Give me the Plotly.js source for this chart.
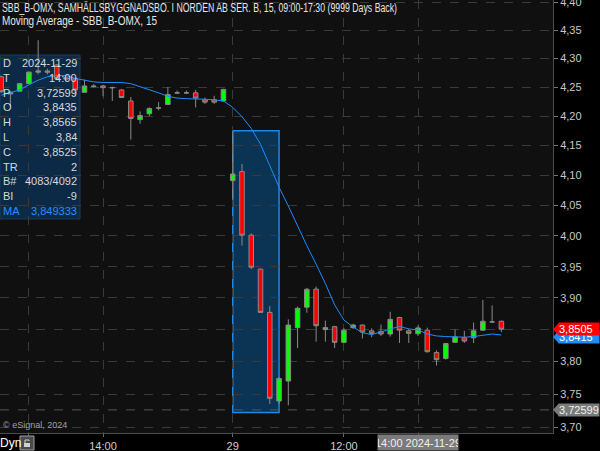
<!DOCTYPE html>
<html>
<head>
<meta charset="utf-8">
<script src="https://cdn.plot.ly/plotly-3.0.1.min.js"></script>
<style>
  html, body { margin: 0; padding: 0; background: #000; }
  #chart { width: 600px; height: 451px; }
</style>
</head>
<body>
<div id="chart"></div>
<script>
// 15-minute bars, SBB_B-OMX, 28-29 Nov 2024
const times = [
  '2024-11-28 11:15','2024-11-28 11:30','2024-11-28 11:45','2024-11-28 12:00','2024-11-28 12:15',
  '2024-11-28 12:30','2024-11-28 12:45','2024-11-28 13:00','2024-11-28 13:15','2024-11-28 13:30',
  '2024-11-28 13:45','2024-11-28 14:00','2024-11-28 14:15','2024-11-28 14:30','2024-11-28 14:45',
  '2024-11-28 15:00','2024-11-28 15:15','2024-11-28 15:30','2024-11-28 15:45','2024-11-28 16:00',
  '2024-11-28 16:15','2024-11-28 16:30','2024-11-28 16:45','2024-11-28 17:00','2024-11-28 17:15',
  '2024-11-29 09:00','2024-11-29 09:15','2024-11-29 09:30','2024-11-29 09:45','2024-11-29 10:00',
  '2024-11-29 10:15','2024-11-29 10:30','2024-11-29 10:45','2024-11-29 11:00','2024-11-29 11:15',
  '2024-11-29 11:30','2024-11-29 11:45','2024-11-29 12:00','2024-11-29 12:15','2024-11-29 12:30',
  '2024-11-29 12:45','2024-11-29 13:00','2024-11-29 13:15','2024-11-29 13:30','2024-11-29 13:45',
  '2024-11-29 14:00','2024-11-29 14:15','2024-11-29 14:30','2024-11-29 14:45','2024-11-29 15:00',
  '2024-11-29 15:15','2024-11-29 15:30','2024-11-29 15:45','2024-11-29 16:00','2024-11-29 16:15'
];
const open = [
  4.268, 4.238, 4.243, 4.256, 4.276, 4.278, 4.2885, 4.266, 4.265, 4.241,
  4.252, 4.252, 4.249, 4.245, 4.226, 4.194, 4.204, 4.214, 4.220, 4.240,
  4.240, 4.240, 4.228, 4.228, 4.226,
  4.091, 4.106, 4.001, 3.946, 3.877, 3.7395, 3.770, 3.853, 3.8853, 3.914,
  3.850, 3.8545, 3.830, 3.853, 3.857, 3.848, 3.847, 3.843, 3.869, 3.848,
  3.8435, 3.849, 3.814, 3.805, 3.830, 3.837, 3.837, 3.849, 3.862, 3.863
];
const high = [
  4.270, 4.243, 4.257, 4.277, 4.332, 4.282, 4.290, 4.268, 4.266, 4.263,
  4.255, 4.254, 4.251, 4.246, 4.233, 4.208, 4.215, 4.224, 4.250, 4.244,
  4.244, 4.245, 4.232, 4.235, 4.247,
  4.175, 4.119, 4.004, 3.947, 3.887, 3.776, 3.866, 3.886, 3.916, 3.918,
  3.864, 3.856, 3.852, 3.859, 3.858, 3.852, 3.858, 3.878, 3.870, 3.851,
  3.8565, 3.853, 3.8175, 3.829, 3.850, 3.848, 3.861, 3.8967, 3.888, 3.864
];
const low = [
  4.240, 4.217, 4.242, 4.255, 4.272, 4.272, 4.262, 4.260, 4.235, 4.240,
  4.249, 4.234, 4.226, 4.231, 4.160, 4.187, 4.200, 4.210, 4.220, 4.238,
  4.238, 4.215, 4.221, 4.221, 4.225,
  4.059, 3.984, 3.946, 3.876, 3.735, 3.735, 3.733, 3.821, 3.8765, 3.831,
  3.831, 3.821, 3.829, 3.851, 3.836, 3.838, 3.840, 3.839, 3.829, 3.829,
  3.840, 3.814, 3.794, 3.803, 3.829, 3.829, 3.829, 3.848, 3.861, 3.846
];
const close = [
  4.242, 4.241, 4.256, 4.276, 4.278, 4.276, 4.265, 4.264, 4.245, 4.252,
  4.251, 4.249, 4.249, 4.232, 4.196, 4.201, 4.213, 4.214, 4.237, 4.240,
  4.240, 4.231, 4.224, 4.224, 4.246,
  4.102, 4.001, 3.949, 3.877, 3.7436, 3.774, 3.857, 3.8835, 3.9137, 3.856,
  3.853, 3.830, 3.849, 3.857, 3.846, 3.844, 3.843, 3.866, 3.849, 3.844,
  3.8525, 3.8154, 3.803, 3.828, 3.8385, 3.832, 3.848, 3.863, 3.862, 3.8505
];
// Moving average study values per bar
const maValues = [
  4.236, 4.240, 4.245, 4.254, 4.262, 4.268, 4.270, 4.270, 4.265, 4.262,
  4.259, 4.258, 4.258, 4.258, 4.256, 4.251, 4.246, 4.240, 4.234, 4.231,
  4.230, 4.230, 4.229, 4.228, 4.226,
  4.215, 4.199, 4.179, 4.152, 4.116, 4.080, 4.049, 4.016, 3.984, 3.954,
  3.923, 3.889, 3.865, 3.854, 3.845, 3.842, 3.846, 3.851, 3.855, 3.851,
  3.849333, 3.843, 3.840, 3.839, 3.838, 3.838, 3.839, 3.841, 3.843, 3.8415
];
// Price axis levels
const priceTicks = [3.70, 3.75, 3.80, 3.85, 3.90, 3.95, 4.00, 4.05, 4.10, 4.15, 4.20, 4.25, 4.30, 4.35, 4.40];
// Time axis labels
const timeTickVals = ['2024-11-28 12:00','2024-11-28 14:00','2024-11-29 09:00','2024-11-29 12:00','2024-11-29 14:00'];
const timeTickText = ['', '14:00', '29', '12:00', ''];
// Data window rows (bar at cursor)
const dwLabels = ['D', 'T', 'P', 'O', 'H', 'L', 'C', 'TR', 'B#', 'BI', 'MA'];
const dwValues = ['2024-11-29', '14:00', '3,72599', '3,8435', '3,8565', '3,84', '3,8525', '2', '4083/4092', '-9', '3,849333'];
const cursorPrice = 3.72599;
const cursorTime = '2024-11-29 14:00';
const lastPrice = 3.8505;
const lastMa = 3.8415;
// Marked zone on the opening drop
const zoneStart = '2024-11-29 09:00', zoneEnd = '2024-11-29 10:15';
const zoneTop = 4.175, zoneBottom = 3.722;
// Header lines and their condensed widths (px)
const headerLines = [
  { text: 'SBB_B-OMX, SAMHÄLLSBYGGNADSBO. I NORDEN AB SER. B, 15, 09:00-17:30 (9999 Days Back)', width: 395 },
  { text: 'Moving Average - SBB_B-OMX, 15', width: 155 }
];

const fmt = (v, d) => v.toFixed(d).replace('.', ',');

const W = 553, H = 433;
const px = x => x / W;
const py = y => 1 - y / H;
const FONT = 'Liberation Sans, Arial, sans-serif';

const traces = [
  {
    type: 'candlestick',
    x: times, open: open, high: high, low: low, close: close,
    increasing: { line: { color: '#8a8a8a', width: 1 }, fillcolor: '#00ff00' },
    decreasing: { line: { color: '#8a8a8a', width: 1 }, fillcolor: '#ff0000' },
    whiskerwidth: 0,
    hoverinfo: 'skip',
    showlegend: false
  },
  {
    type: 'scatter', mode: 'lines',
    x: times, y: maValues,
    line: { color: '#1e8cff', width: 1 },
    hoverinfo: 'skip',
    showlegend: false
  }
];

const annotations = [];
const shapes = [];

// Header lines
headerLines.forEach((h, k) => {
  annotations.push({ xref: 'paper', yref: 'paper', x: 0, y: py(8 + k * 13), xanchor: 'left', yanchor: 'middle', showarrow: false,
    text: h.text, font: { family: FONT, size: 12, color: '#e6e6e6' } });
});

// Data window
shapes.push({ type: 'rect', xref: 'paper', yref: 'paper', layer: 'below',
  x0: px(0), x1: px(80), y0: py(219), y1: py(55),
  fillcolor: '#0c2a46', line: { color: '#163a5c', width: 1 } });
dwLabels.forEach((lab, k) => {
  const yy = py(63 + k * 14.8);
  const col = lab === 'MA' ? '#2a8cff' : '#d8d8d8';
  annotations.push({ xref: 'paper', yref: 'paper', x: px(1), y: yy, xanchor: 'left', yanchor: 'middle', showarrow: false,
    text: lab, font: { family: FONT, size: 11, color: col } });
  annotations.push({ xref: 'paper', yref: 'paper', x: px(79), y: yy, xanchor: 'right', yanchor: 'middle', showarrow: false,
    text: dwValues[k], font: { family: FONT, size: 11, color: col } });
});

// Marked zone
shapes.push({ type: 'rect', xref: 'x', yref: 'y', layer: 'below',
  x0: zoneStart, x1: zoneEnd, y0: zoneBottom, y1: zoneTop,
  fillcolor: '#0a3354', line: { color: '#1e88e5', width: 1.5 } });

// Cursor line
shapes.push({ type: 'line', xref: 'paper', yref: 'y', x0: 0, x1: 1, y0: cursorPrice, y1: cursorPrice,
  line: { color: '#555', width: 1, dash: 'dash' } });

// Price tags on the right axis
function priceTag(value, text, bg, fg, shift) {
  const s = shift || 0;
  annotations.push({ xref: 'paper', yref: 'y', x: 1, y: Math.log10(value), xanchor: 'left', yanchor: 'middle', xshift: 5,
    yshift: s,
    showarrow: false, text: text, bgcolor: bg, width: 40, height: 12, align: 'left', borderpad: 0,
    font: { family: FONT, size: 11, color: fg } });
  shapes.push({ type: 'path', xref: 'paper', yref: 'y', xsizemode: 'pixel', ysizemode: 'pixel',
    xanchor: 1, yanchor: value, path: 'M 0 ' + s + ' L 6 ' + (s + 6.5) + ' L 6 ' + (s - 6.5) + ' Z',
    fillcolor: bg, line: { width: 0 } });
}
priceTag(lastMa, fmt(lastMa, 4), '#1e8cff', '#ffffff', -2);
priceTag(lastPrice, fmt(lastPrice, 4), '#ff0000', '#ffffff', 0);
priceTag(cursorPrice, fmt(cursorPrice, 5), '#7a7a7a', '#f0f0f0', 0);

// Time tag under the cursor
annotations.push({ xref: 'x', yref: 'paper', x: cursorTime, y: py(443), xanchor: 'center', yanchor: 'middle',
  showarrow: false, text: '14:00 2024-11-29', bgcolor: '#7a7a7a', width: 80, height: 15, borderpad: 0,
  font: { family: FONT, size: 11, color: '#f0f0f0' } });

// Copyright
annotations.push({ xref: 'paper', yref: 'paper', x: px(1), y: py(425), xanchor: 'left', yanchor: 'middle', showarrow: false,
  text: '© eSignal, 2024', font: { family: FONT, size: 9, color: '#a0a0a0' } });

// Bottom-left control
annotations.push({ xref: 'paper', yref: 'paper', x: px(-2), y: py(443), xanchor: 'left', yanchor: 'middle', showarrow: false,
  text: 'Dyn', font: { family: FONT, size: 12, color: '#ffffff' } });
shapes.push({ type: 'rect', xref: 'paper', yref: 'paper', x0: px(20), x1: px(34), y0: py(450), y1: py(436),
  fillcolor: '#4a4a4a', line: { color: '#a0a0a0', width: 1 } });
shapes.push({ type: 'rect', xref: 'paper', yref: 'paper', x0: px(24), x1: px(30), y0: py(447), y1: py(443),
  fillcolor: '#d0d0d0', line: { width: 0 } });
shapes.push({ type: 'path', xref: 'paper', yref: 'paper',
  path: 'M ' + px(25) + ' ' + py(443) + ' L ' + px(25) + ' ' + py(440) + ' L ' + px(29) + ' ' + py(440) + ' L ' + px(29) + ' ' + py(441),
  line: { color: '#d0d0d0', width: 1 } });

const layout = {
  width: 600, height: 451,
  margin: { l: 0, r: 47, t: 0, b: 18, pad: 0 },
  paper_bgcolor: '#000000',
  plot_bgcolor: '#101010',
  font: { family: FONT, size: 11, color: '#cfcfcf' },
  showlegend: false,
  xaxis: {
    type: 'category',
    range: [-0.12, 59.57],
    rangeslider: { visible: false },
    tickmode: 'array', tickvals: timeTickVals, ticktext: timeTickText,
    tickangle: 0,
    ticks: 'outside', ticklen: 3, tickcolor: '#666',
    showgrid: true, gridcolor: '#3a3a3a', griddash: 'dash', gridwidth: 1,
    showline: true, linecolor: '#4a4a4a', linewidth: 1,
    zeroline: false,
    tickfont: { family: FONT, size: 11, color: '#d0d0d0' },
    fixedrange: true
  },
  yaxis: {
    type: 'log',
    side: 'right',
    range: [Math.log10(3.691), Math.log10(4.4036)],
    tickmode: 'array', tickvals: priceTicks, ticktext: priceTicks.map(v => fmt(v, 2)),
    ticks: 'outside', ticklen: 4, tickcolor: '#777',
    ticklabeloverflow: 'allow',
    showgrid: true, gridcolor: '#3a3a3a', griddash: 'dash', gridwidth: 1,
    showline: true, linecolor: '#4a4a4a', linewidth: 1,
    zeroline: false,
    tickfont: { family: FONT, size: 11, color: '#c8c8c8' },
    fixedrange: true
  },
  annotations: annotations,
  shapes: shapes
};

Plotly.newPlot('chart', traces, layout, { displayModeBar: false, staticPlot: true }).then(gd => {
  // Condense the header lines to the narrow title face, keeping them flush left
  gd.querySelectorAll('.annotation-text').forEach(t => {
    const h = headerLines.find(l => l.text === t.textContent);
    if (h) {
      const bb = t.getBBox();
      t.setAttribute('text-anchor', 'start');
      t.setAttribute('x', bb.x);
      t.setAttribute('textLength', h.width);
      t.setAttribute('lengthAdjust', 'spacingAndGlyphs');
    }
  });
});
</script>
</body>
</html>
